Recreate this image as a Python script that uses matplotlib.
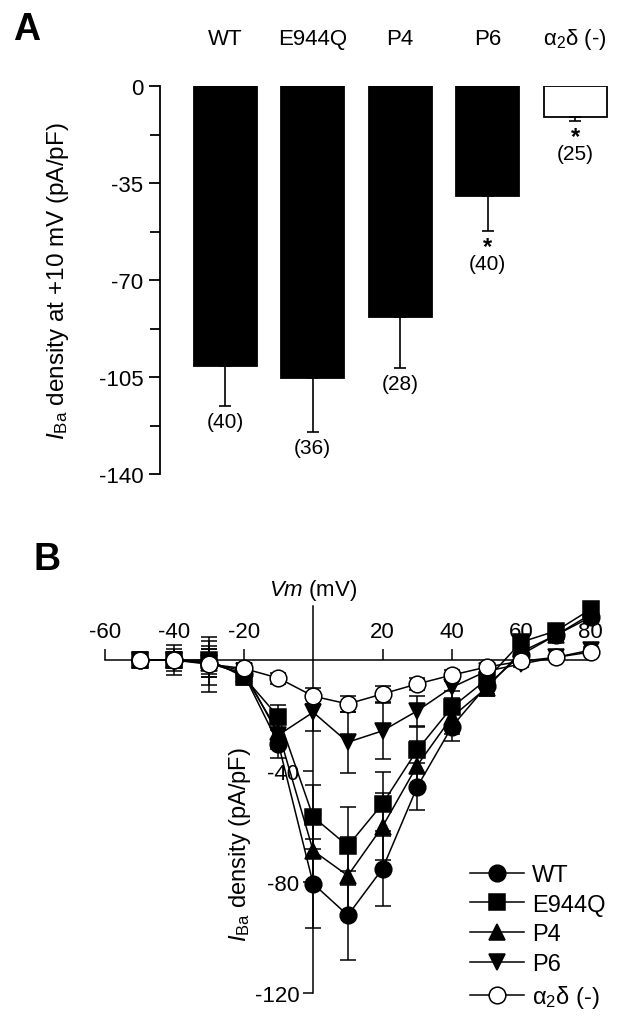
import matplotlib
matplotlib.use("Agg")
import matplotlib.pyplot as plt
from matplotlib.lines import Line2D
import numpy as np

plt.rcParams['font.family'] = ['Liberation Sans', 'DejaVu Sans']
plt.rcParams['mathtext.fontset'] = 'custom'
plt.rcParams['mathtext.rm'] = 'Liberation Sans'
plt.rcParams['mathtext.it'] = 'Liberation Sans:italic'
plt.rcParams['mathtext.bf'] = 'Liberation Sans:bold'
plt.rcParams['axes.unicode_minus'] = False

# panel A: I_Ba density at +10 mV
groups = ['WT', 'E944Q', 'P4', 'P6', r'$\mathrm{\alpha}_2\mathrm{\delta}$ (-)']
dens = [-101.0, -105.4, -83.4, -39.7, -11.2]
dens_err = [14.5, 19.6, 18.4, 12.6, 1.4]
n_cells = ['(40)', '(36)', '(28)', '(40)', '(25)']
signif = [False, False, False, True, True]

# panel B: I-V curves
vm = [-50, -40, -30, -20, -10, 0, 10, 20, 30, 40, 50, 60, 70, 80]
iv_wt = [0, 0, -1, -5, -30.2, -80.6, -92, -75.2, -45.7, -24, -9.3, 2, 9, 15.5]
iv_wt_err = [1, 4, 8, 3, 5, 16, 16, 13.6, 8.5, 5, 3, 2, 2, 2]
iv_e944q = [0, 0, 0, -6, -20.5, -56.5, -67, -51.8, -32.4, -17, -7, 6.5, 10.5, 18.3]
iv_e944q_err = [1, 3, 5, 3, 4.3, 11.5, 14, 11.5, 8.3, 6, 3, 2, 2, 2]
iv_p4 = [0, 0, -1, -5, -26, -68.7, -77.7, -60, -38, -20.5, -10, 3, 9, 16.5]
iv_p4_err = [1, 3, 5, 3, 5, 12, 14, 12, 9, 6, 3, 2, 2, 2]
iv_p6 = [0, 0, -1, -4, -27, -18.8, -29.6, -25.5, -18.3, -9.8, -4, -1.4, 1, 3.6]
iv_p6_err = [1, 3, 5, 2, 5, 6.7, 11, 10, 5.5, 4, 2, 1, 1, 1]
iv_a2d = [0, 0, -1.5, -3, -6.5, -13, -15.8, -12.2, -8.6, -5.4, -2.5, -0.4, 1, 2.9]
iv_a2d_err = [1, 5.5, 10, 2, 2, 3, 3, 3, 2, 2, 1, 1, 1, 1]

fig = plt.figure(figsize=(6.36, 10.2), dpi=100)

# ---------------- A ----------------
axA = fig.add_axes([160/636, 1-475/1020, 460/636, 388/1020])
x = np.arange(len(groups))
colors = ['black', 'black', 'black', 'black', 'white']
axA.bar(x, dens, width=0.72, color=colors, edgecolor='black', linewidth=1.3)
axA.errorbar(x, dens, yerr=[dens_err, [0]*len(dens)], fmt='none', ecolor='black',
             elinewidth=1.2, capsize=4.5, capthick=1.2)
for i in range(len(groups)):
    bottom = dens[i] - dens_err[i]
    axA.text(i, 17, groups[i], ha='center', va='center', fontsize=16, clip_on=False)
    off = -4
    if signif[i]:
        axA.annotate('*', (i, bottom), xytext=(0, -3), textcoords='offset points',
                     ha='center', va='top', fontsize=17, fontweight='bold')
        off = -16.5
    axA.annotate(n_cells[i], (i, bottom), xytext=(0, off), textcoords='offset points',
                 ha='center', va='top', fontsize=15)
axA.set_ylim(-140, 0)
axA.set_xlim(-0.743, 4.514)
axA.set_yticks(np.arange(0, -141, -35))
axA.set_yticks(np.arange(-17.5, -140, -35), minor=True)
axA.set_xticks([])
for s in ['top', 'right', 'bottom']:
    axA.spines[s].set_visible(False)
axA.spines['left'].set_linewidth(1.3)
axA.tick_params(axis='y', which='major', length=8, width=1.3, labelsize=16, pad=4)
axA.tick_params(axis='y', which='minor', length=7, width=1.3)
axA.text(-0.222, 0.5, r'$I_{\mathrm{Ba}}$ density at +10 mV (pA/pF)', transform=axA.transAxes,
         rotation=90, ha='center', va='center', fontsize=17.5)

# ---------------- B ----------------
axB = fig.add_axes([105/636, 1-994/1020, 503/636, 387/1020])
series = [
    ('WT', iv_wt, iv_wt_err, 'o', 'black', 12),
    ('E944Q', iv_e944q, iv_e944q_err, 's', 'black', 11),
    ('P4', iv_p4, iv_p4_err, '^', 'black', 12),
    ('P6', iv_p6, iv_p6_err, 'v', 'black', 12),
    (r'$\mathrm{\alpha}_2\mathrm{\delta}$ (-)', iv_a2d, iv_a2d_err, 'o', 'white', 12),
]
handles = []
for k, (lab, y, e, m, fc, ms) in enumerate(series):
    axB.errorbar(vm, y, yerr=e, fmt='none', ecolor='black', elinewidth=1.1,
                 capsize=6, capthick=1.1, clip_on=False, zorder=2)
    axB.plot(vm, y, '-', color='black', lw=1.1, clip_on=False, zorder=3)
    axB.plot(vm, y, m, mfc=fc, mec='black', mew=1.1, ms=ms, clip_on=False, zorder=4 + k)
    handles.append(Line2D([], [], color='black', lw=1.1, marker=m, mfc=fc,
                          mec='black', mew=1.1, ms=ms, label=lab))

axB.set_xlim(-60, 85)
axB.set_ylim(-120, 19.5)
axB.spines['bottom'].set_visible(False)
axB.spines['right'].set_visible(False)
axB.spines['top'].set_position(('data', 0))
axB.spines['top'].set_bounds(-60, 80)
axB.spines['left'].set_position(('data', 0))
axB.spines['top'].set_linewidth(1.1)
axB.spines['left'].set_linewidth(1.1)
axB.xaxis.tick_top()
axB.set_xticks([-60, -40, -20, 20, 40, 60, 80])
axB.set_yticks([-40, -80, -120])
axB.tick_params(axis='x', direction='out', length=8, width=1.1, labelsize=16, pad=5)
axB.tick_params(axis='y', direction='out', length=7, width=1.1, labelsize=16, pad=3)
axB.text(0, 25.5, r'$Vm$ (mV)', ha='center', va='center', fontsize=16, clip_on=False)
axB.text(0.268, 0.385, r'$I_{\mathrm{Ba}}$ density (pA/pF)', transform=axB.transAxes,
         rotation=90, ha='center', va='center', fontsize=17)
axB.legend(handles=handles, loc='upper left', bbox_to_anchor=(458/636, 1-853/1020),
           bbox_transform=fig.transFigure, frameon=False, fontsize=17,
           handlelength=2.3, handletextpad=0.35, labelspacing=0.33, borderpad=0)

fig.text(13/636, 1-40/1020, 'A', fontsize=27, fontweight='bold', ha='left', va='baseline')
fig.text(33/636, 1-570/1020, 'B', fontsize=27, fontweight='bold', ha='left', va='baseline')

fig.savefig('out.png', dpi=100)
